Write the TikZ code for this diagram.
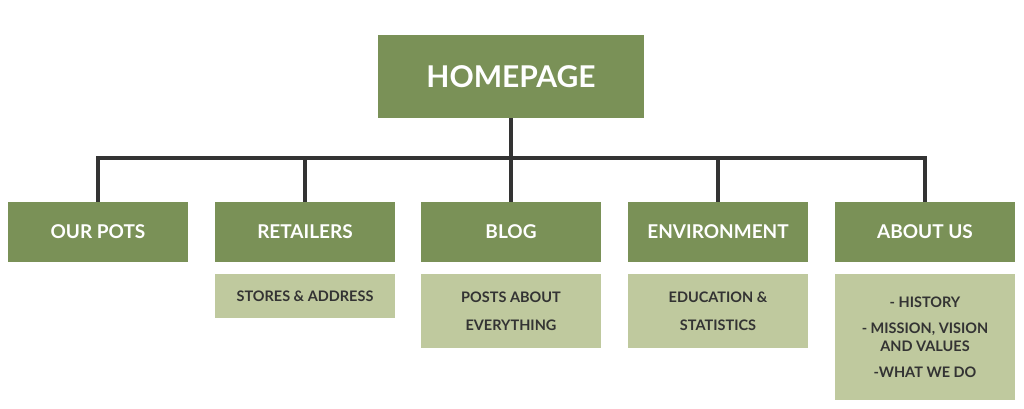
\documentclass[tikz,border=0pt]{standalone}
\usepackage{fontspec}
\setmainfont{Lato}
\definecolor{leaf}{HTML}{7A9157}
\definecolor{sage}{HTML}{BFC99E}
\definecolor{wire}{HTML}{333333}
\begin{document}
\begin{tikzpicture}[x=1pt,y=-1pt,
    pagebox/.style={fill=leaf,text=white,font=\bfseries\fontsize{19}{22}\selectfont,
      minimum width=180pt,minimum height=60pt,inner sep=0pt},
    subbox/.style={fill=sage,text=wire,font=\bfseries\fontsize{14.5}{28}\selectfont,
      minimum width=180pt,inner sep=0pt,align=center,anchor=north},
    link/.style={wire,line width=4.5pt}]
    \useasboundingbox (0,0) rectangle (1024,408);
    \node[pagebox,minimum width=266pt,minimum height=83pt,
      font=\bfseries\fontsize{30}{34}\selectfont] (home) at (511,76.5) {HOMEPAGE};
    \node[pagebox] (pots) at (98,232) {OUR POTS};
    \node[pagebox] (retail) at (305,232) {RETAILERS};
    \node[pagebox] (blog) at (511,232) {BLOG};
    \node[pagebox] (env) at (718,232) {ENVIRONMENT};
    \node[pagebox] (about) at (925,232) {ABOUT US};
    % sub pages
    \node[subbox,minimum height=44pt] (stores) at (305,274) {STORES \& ADDRESS};
    \node[subbox,minimum height=74pt] (posts) at (511,274) {POSTS ABOUT\\EVERYTHING};
    \node[subbox,minimum height=74pt] (edu) at (718,274) {EDUCATION \&\\STATISTICS};
    \node[subbox,minimum height=126pt,font=\bfseries\fontsize{14.5}{26}\selectfont] (hist) at (925,274)
      {- HISTORY\\- MISSION, VISION\\[-8pt]AND VALUES\\-WHAT WE DO};
    \coordinate (bar) at (511,158);
    \draw[link] (home.south) -- (bar);
    \foreach \n in {pots,retail,blog,env,about}
      \draw[link] (bar) -| (\n.north);
\end{tikzpicture}
\end{document}
